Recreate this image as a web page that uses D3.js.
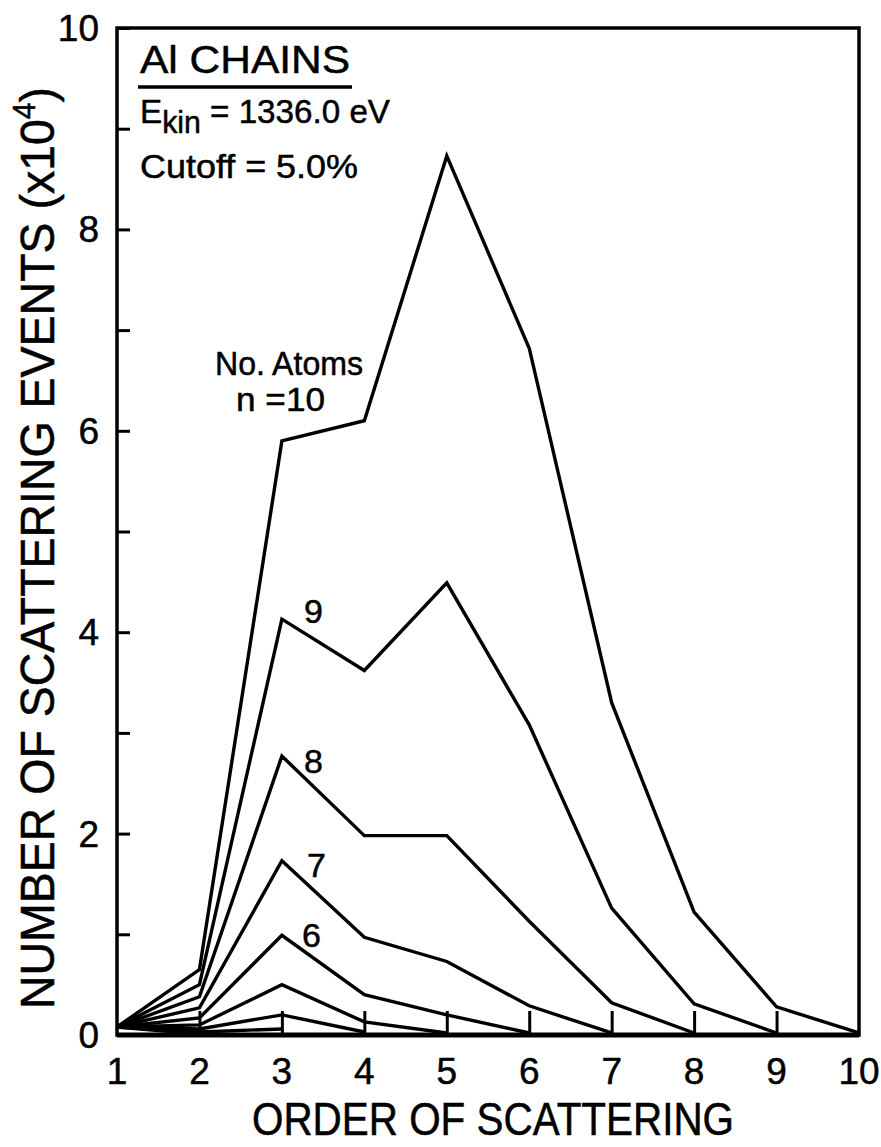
<!DOCTYPE html>
<html>
<head>
<meta charset="utf-8">
<script src="https://cdn.jsdelivr.net/npm/d3@7"></script>
<style>
  html, body { margin: 0; padding: 0; background: #fff; }
  svg { display: block; }
  text { font-family: "Liberation Sans", "DejaVu Sans", sans-serif; fill: #000; stroke: #000; stroke-width: 0.5; }
</style>
</head>
<body>
<svg id="chart" width="881" height="1147"></svg>
<script>
// Order of scattering (x axis)
const orders = [1, 2, 3, 4, 5, 6, 7, 8, 9, 10];
// Number of scattering events (x10^4) for chains of n atoms, by order 1..n
const chain10 = [0.08, 0.65, 5.9, 6.1, 8.73, 6.82, 3.3, 1.22, 0.28, 0.02];
const chain9 = [0.08, 0.5, 4.13, 3.62, 4.49, 3.08, 1.26, 0.31, 0.02];
const chain8 = [0.08, 0.38, 2.77, 1.98, 1.98, 1.13, 0.32, 0.02];
const chain7 = [0.08, 0.27, 1.73, 0.97, 0.73, 0.29, 0.02];
const chain6 = [0.08, 0.17, 0.99, 0.40, 0.20, 0.02];
const chain5 = [0.08, 0.1, 0.5, 0.13, 0.02];
const chain4 = [0.08, 0.06, 0.2, 0.03];
const chain3 = [0.08, 0.03, 0.06];
const chain2 = [0.08, 0.01];
const chainSizes = [10, 9, 8, 7, 6, 5, 4, 3, 2];
const chainValues = [chain10, chain9, chain8, chain7, chain6, chain5, chain4, chain3, chain2];
const yTicks = [0, 1, 2, 3, 4, 5, 6, 7, 8, 9, 10];
const yTickLabels = ["0", "", "2", "", "4", "", "6", "", "8", "", "10"];
const xTickLabels = ["1", "2", "3", "4", "5", "6", "7", "8", "9", "10"];

const svg = d3.select("#chart");
const plotLeft = 117, plotRight = 859, plotTop = 28, plotBottom = 1035;

const x = d3.scaleLinear().domain([1, 10]).range([plotLeft, plotRight]);
const y = d3.scaleLinear().domain([0, 10]).range([plotBottom, plotTop]);

// Curves
const line = d3.line()
  .x((d, i) => x(orders[i]))
  .y(d => y(d));

svg.append("g")
  .selectAll("path")
  .data(chainValues)
  .join("path")
  .attr("d", d => line(d))
  .attr("fill", "none")
  .attr("stroke", "#000")
  .attr("stroke-width", 3.4)
  .attr("stroke-linejoin", "miter");

// Y axis: inward ticks on every unit
const yAxis = d3.axisRight(y)
  .tickValues(yTicks)
  .tickSize(13)
  .tickFormat("");
const gy = svg.append("g").attr("transform", `translate(${plotLeft},0)`).call(yAxis);
gy.select(".domain").remove();
gy.selectAll(".tick line").attr("stroke", "#000").attr("stroke-width", 3);

// Y tick labels
svg.append("g")
  .selectAll("text")
  .data(yTicks)
  .join("text")
  .attr("x", 99)
  .attr("y", d => y(d) + 13)
  .attr("text-anchor", "end")
  .attr("font-size", 37)
  .text((d, i) => yTickLabels[i]);

// X axis: inward ticks at interior orders
const xAxis = d3.axisTop(x)
  .tickValues(orders.slice(1, -1))
  .tickSize(24)
  .tickFormat("");
const gx = svg.append("g").attr("transform", `translate(0,${plotBottom})`).call(xAxis);
gx.select(".domain").remove();
gx.selectAll(".tick line").attr("stroke", "#000").attr("stroke-width", 3);

// X tick labels
svg.append("g")
  .selectAll("text")
  .data(orders)
  .join("text")
  .attr("x", d => x(d))
  .attr("y", 1084)
  .attr("text-anchor", "middle")
  .attr("font-size", 37)
  .text((d, i) => xTickLabels[i]);

// Frame
svg.append("rect")
  .attr("x", plotLeft).attr("y", plotTop)
  .attr("width", plotRight - plotLeft).attr("height", plotBottom - plotTop)
  .attr("fill", "none").attr("stroke", "#000").attr("stroke-width", 3.5);
svg.append("line")
  .attr("x1", plotLeft).attr("x2", plotRight)
  .attr("y1", plotBottom).attr("y2", plotBottom)
  .attr("stroke", "#000").attr("stroke-width", 5);

// Axis titles
svg.append("text")
  .attr("x", 493).attr("y", 1135)
  .attr("text-anchor", "middle")
  .attr("font-size", 46)
  .attr("textLength", 482)
  .attr("lengthAdjust", "spacingAndGlyphs")
  .text("ORDER OF SCATTERING");

const yTitle = svg.append("text")
  .attr("transform", "translate(54,548) rotate(-90)")
  .attr("text-anchor", "middle")
  .attr("font-size", 48)
  .attr("stroke-width", 1.4)
  .attr("textLength", 922)
  .attr("lengthAdjust", "spacingAndGlyphs");
yTitle.append("tspan").text("NUMBER OF SCATTERING EVENTS (x10");
yTitle.append("tspan").attr("dy", -19).attr("font-size", 31).text("4");
yTitle.append("tspan").attr("dy", 19).text(")");

// Annotation block
svg.append("text")
  .attr("x", 140).attr("y", 73)
  .attr("font-size", 39)
  .attr("textLength", 210)
  .attr("lengthAdjust", "spacingAndGlyphs")
  .text("Al CHAINS");
svg.append("line")
  .attr("x1", 138).attr("x2", 352)
  .attr("y1", 87).attr("y2", 87)
  .attr("stroke", "#000").attr("stroke-width", 3.5);

const ek = svg.append("text").attr("x", 140).attr("y", 123).attr("font-size", 34)
  .attr("textLength", 250).attr("lengthAdjust", "spacingAndGlyphs");
ek.append("tspan").text("E");
ek.append("tspan").attr("dy", 10).attr("font-size", 31).text("kin");
ek.append("tspan").attr("dy", -10).text(" = 1336.0 eV");

svg.append("text")
  .attr("x", 140).attr("y", 178)
  .attr("font-size", 34)
  .attr("textLength", 218)
  .attr("lengthAdjust", "spacingAndGlyphs")
  .text("Cutoff = 5.0%");

// Curve labels
svg.append("text").attr("x", 215).attr("y", 375).attr("font-size", 33)
  .attr("textLength", 148).attr("lengthAdjust", "spacingAndGlyphs").text("No. Atoms");
svg.append("text").attr("x", 236).attr("y", 411).attr("font-size", 33)
  .attr("textLength", 89).attr("lengthAdjust", "spacingAndGlyphs").text("n  =10");

const curveLabels = [
  { t: "9", xx: 304, yy: 623 },
  { t: "8", xx: 304, yy: 773 },
  { t: "7", xx: 307, yy: 877 },
  { t: "6", xx: 302, yy: 947 }
];
svg.append("g")
  .selectAll("text")
  .data(curveLabels)
  .join("text")
  .attr("x", d => d.xx)
  .attr("y", d => d.yy)
  .attr("font-size", 34)
  .text(d => d.t);
</script>
</body>
</html>
